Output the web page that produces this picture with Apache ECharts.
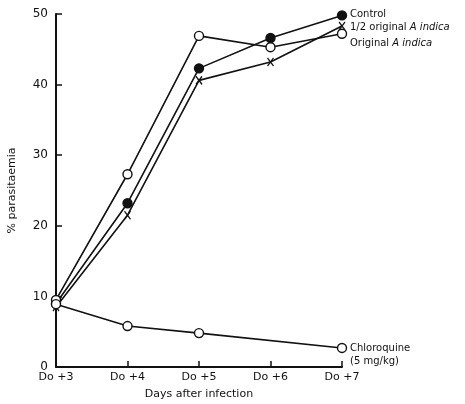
<!doctype html>
<html>
    <head>
        <meta charset="utf-8">
        <title>% parasitaemia</title>
        <style>
            html, body { margin: 0; padding: 0; background: #fff; }
            #main { width: 465px; height: 404px; }
        </style>
    </head>
    <body>
        <div id="main"></div>
        <script src="https://cdn.jsdelivr.net/npm/echarts@6/dist/echarts.min.js"></script>
        <script>

            var days = ['Do +3', 'Do +4', 'Do +5', 'Do +6', 'Do +7'];
            var control = [9.0, 23.2, 42.3, 46.6, 49.8];
            var halfOriginal = [8.5, 21.5, 40.6, 43.2, 48.3];
            var original = [9.5, 27.3, 46.9, 45.3, 47.2];
            var chloroquine = [8.9, 5.8, 4.8, null, 2.7];

            var ink = '#111';
            var font = 'DejaVu Sans';
            var crossPath = 'path://M0,0L10,12M10,0L0,12';

            var myChart = echarts.init(document.getElementById('main'));

            function line(name, data, symbol, size, fill, label) {
                return {
                    type: 'line',
                    name: name,
                    data: data,
                    connectNulls: true,
                    symbol: symbol,
                    symbolSize: size,
                    showAllSymbol: true,
                    lineStyle: { color: ink, width: 1.6 },
                    itemStyle: { color: fill, borderColor: ink, borderWidth: 1.4 },
                    endLabel: label,
                    z: 3
                };
            }

            myChart.setOption({
                animation: false,
                backgroundColor: '#fff',
                grid: { left: 56, right: 123, top: 14, bottom: 37, containLabel: false, outerBoundsMode: 'none' },
                xAxis: {
                    type: 'category',
                    data: days,
                    boundaryGap: false,
                    name: 'Days after infection',
                    nameLocation: 'middle',
                    nameGap: 22,
                    nameTextStyle: { color: ink, fontFamily: font, fontSize: 11 },
                    axisLine: { lineStyle: { color: ink, width: 2 } },
                    axisTick: { inside: true, length: 6, lineStyle: { color: ink, width: 1.5 } },
                    axisLabel: { color: ink, fontFamily: font, fontSize: 11, margin: 5 }
                },
                yAxis: {
                    type: 'value',
                    min: 0,
                    max: 50,
                    interval: 10,
                    name: '% parasitaemia',
                    nameLocation: 'middle',
                    nameGap: 38,
                    nameTextStyle: { color: ink, fontFamily: font, fontSize: 11 },
                    splitLine: { show: false },
                    axisLine: { show: true, lineStyle: { color: ink, width: 2 } },
                    axisTick: { show: true, inside: true, length: 6, lineStyle: { color: ink, width: 1.5 } },
                    axisLabel: { color: ink, fontFamily: font, fontSize: 12, margin: 8 }
                },
                series: [
                    line('Control', control, 'circle', 9, ink, {
                        show: true, formatter: 'Control', color: ink,
                        fontFamily: font, fontSize: 10, distance: 8, offset: [0, -1]
                    }),
                    line('1/2 original A indica', halfOriginal, crossPath, [6, 8], 'none', {
                        show: true, color: ink, fontFamily: font, fontSize: 10, distance: 8, offset: [0, 1],
                        formatter: '1/2 original {i|A indica}',
                        rich: { i: { fontStyle: 'italic', fontFamily: font, fontSize: 10, color: ink } }
                    }),
                    line('Original A indica', original, 'circle', 9, '#fff', {
                        show: true, color: ink, fontFamily: font, fontSize: 10, distance: 8, offset: [0, 10],
                        formatter: 'Original {i|A indica}',
                        rich: { i: { fontStyle: 'italic', fontFamily: font, fontSize: 10, color: ink } }
                    }),
                    line('Chloroquine', chloroquine, 'circle', 9, '#fff', {
                        show: true, color: ink, fontFamily: font, fontSize: 10, distance: 8,
                        offset: [0, 7], lineHeight: 13,
                        formatter: 'Chloroquine\n(5 mg/kg)'
                    })
                ]
            });

        </script>
    </body>
</html>
